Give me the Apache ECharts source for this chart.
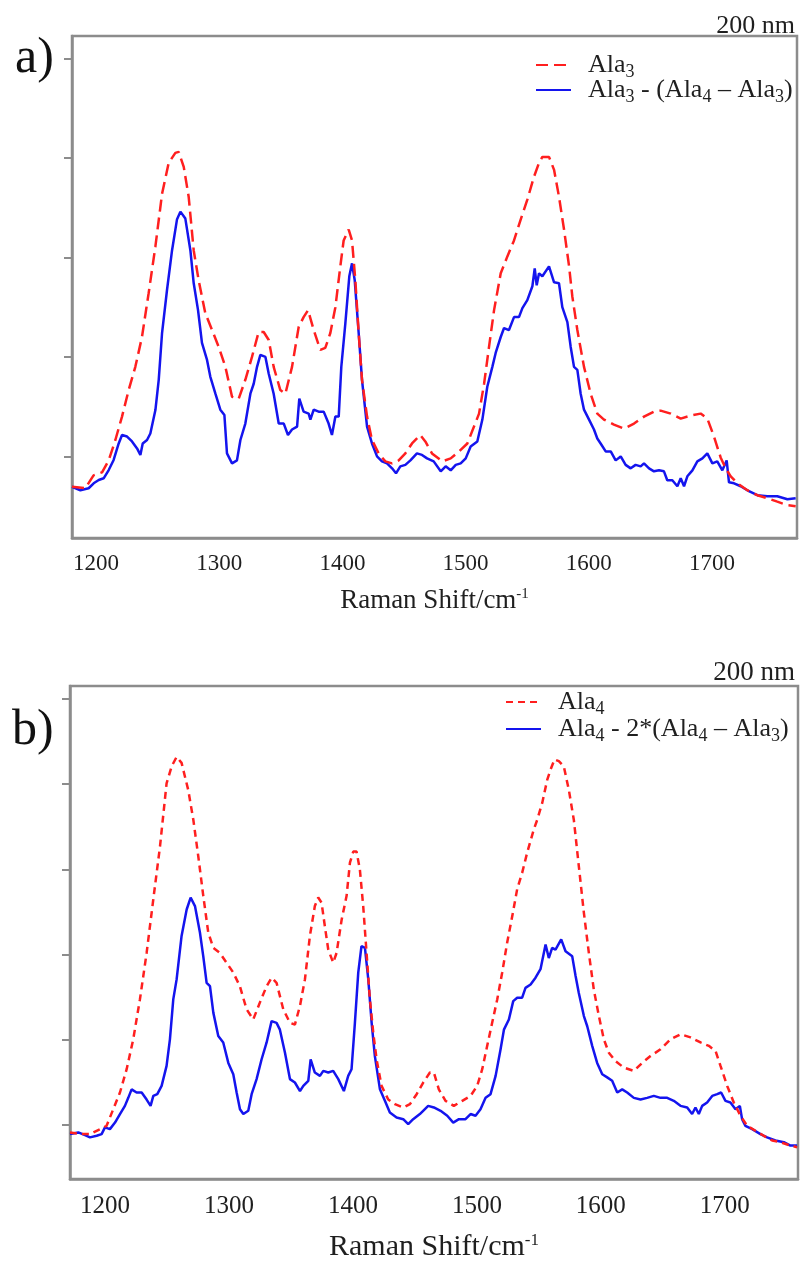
<!DOCTYPE html>
<html>
<head>
<meta charset="utf-8">
<script src="https://cdn.jsdelivr.net/npm/echarts@6/dist/echarts.min.js"></script>
<style>
  html, body { margin: 0; padding: 0; background: #ffffff; }
  #chart { width: 800px; height: 1263px; }
</style>
</head>
<body>
<div id="chart"></div>
<script>
// Raman spectra, 200 nm excitation. Intensities in arbitrary units.

// ---- panel a) ----
const aAla3X = [1180.5,1191.3,1198.0,1204.9,1210.3,1215.7,1221.1,1226.5,1231.9,1237.3,1242.7,1248.2,1253.6,1259.0,1264.4,1267.1,1271.2,1275.2,1279.3,1283.3,1288.7,1294.2,1299.6,1305.0,1310.4,1315.8,1321.2,1326.6,1332.0,1336.1,1340.2,1344.2,1349.6,1353.7,1359.1,1364.5,1368.5,1372.1,1376.7,1382.1,1386.1,1390.2,1394.3,1398.3,1401.0,1405.1,1407.8,1410.5,1413.2,1415.9,1420.0,1424.0,1429.4,1434.8,1440.3,1445.7,1451.1,1456.5,1463.2,1467.3,1472.7,1481.1,1487.9,1494.6,1501.4,1506.8,1510.9,1515.0,1519.0,1523.1,1528.5,1533.9,1539.3,1544.7,1550.1,1555.5,1559.6,1562.3,1567.7,1571.8,1575.8,1579.9,1584.0,1586.6,1590.7,1596.1,1601.5,1606.9,1612.3,1620.4,1628.6,1636.7,1644.8,1652.9,1658.3,1666.5,1674.6,1682.7,1690.8,1696.2,1701.6,1707.0,1711.1,1715.2,1720.6,1728.7,1736.8,1744.9,1753.0,1761.2,1767.9];
const aAla3Y = [-0.305,-0.32,-0.19,-0.16,-0.04,0.165,0.40,0.667,0.90,1.20,1.64,2.11,2.64,2.95,3.05,3.06,2.91,2.61,2.07,1.77,1.44,1.27,1.10,0.90,0.60,0.58,0.77,1.00,1.25,1.25,1.17,0.90,0.667,0.63,0.90,1.30,1.40,1.47,1.27,1.07,1.09,1.24,1.50,1.91,2.17,2.28,2.17,1.77,1.24,0.77,0.40,0.165,0.03,-0.05,-0.07,-0.04,0.03,0.13,0.215,0.15,0.03,-0.05,-0.02,0.05,0.13,0.30,0.43,0.73,1.10,1.47,1.84,2.01,2.17,2.38,2.58,2.81,2.95,3.01,3.01,2.88,2.61,2.28,1.91,1.61,1.27,0.90,0.63,0.43,0.37,0.32,0.28,0.33,0.40,0.45,0.46,0.43,0.38,0.41,0.43,0.38,0.20,-0.01,-0.12,-0.20,-0.27,-0.34,-0.39,-0.42,-0.455,-0.49,-0.50];

const aDiffX = [1180.5,1187.3,1194.0,1198.1,1202.2,1206.2,1210.3,1214.3,1218.4,1221.1,1225.2,1229.2,1233.3,1236.0,1237.9,1241.4,1244.1,1248.2,1250.9,1253.6,1257.6,1261.7,1265.7,1268.5,1272.5,1276.6,1279.3,1282.8,1286.0,1290.1,1292.8,1296.9,1300.9,1304.2,1306.3,1310.4,1314.4,1317.2,1321.2,1325.3,1328.0,1330.7,1333.4,1337.5,1340.2,1344.2,1348.3,1352.4,1355.8,1359.1,1363.2,1365.0,1368.5,1372.6,1374.0,1376.7,1380.7,1384.8,1388.8,1391.5,1394.3,1397.0,1399.1,1402.4,1405.6,1407.8,1410.0,1413.2,1415.9,1420.0,1424.0,1428.1,1432.1,1436.2,1440.3,1443.5,1447.0,1451.1,1455.2,1460.5,1464.6,1468.7,1474.1,1479.8,1483.8,1487.9,1492.0,1496.0,1500.1,1504.1,1509.5,1513.6,1517.6,1521.7,1524.4,1528.5,1531.2,1535.2,1539.3,1543.3,1546.1,1550.1,1554.2,1556.1,1557.7,1559.6,1562.3,1567.7,1571.8,1575.8,1578.5,1582.6,1585.3,1588.0,1590.7,1593.4,1596.1,1600.2,1604.2,1606.9,1609.6,1613.7,1617.8,1621.8,1625.9,1629.9,1634.0,1638.0,1642.1,1644.8,1648.9,1652.9,1657.0,1661.0,1663.7,1667.8,1671.9,1674.6,1677.3,1680.0,1684.1,1688.1,1692.2,1696.2,1700.3,1704.3,1708.4,1711.9,1713.8,1717.9,1723.3,1730.0,1736.8,1744.9,1753.0,1761.2,1767.9];
const aDiffY = [-0.305,-0.34,-0.32,-0.27,-0.237,-0.22,-0.137,-0.036,0.13,0.215,0.20,0.15,0.08,0.015,0.13,0.165,0.23,0.466,0.77,1.24,1.67,2.07,2.38,2.46,2.39,2.07,1.74,1.47,1.14,0.97,0.80,0.63,0.47,0.416,0.03,-0.07,-0.04,0.165,0.33,0.63,0.73,0.90,1.02,1.00,0.83,0.63,0.33,0.33,0.215,0.27,0.30,0.58,0.45,0.43,0.37,0.47,0.45,0.45,0.33,0.215,0.40,0.40,0.90,1.34,1.81,1.94,1.77,1.24,0.77,0.30,0.13,0.00,-0.05,-0.07,-0.12,-0.17,-0.10,-0.085,-0.04,0.03,0.015,-0.02,-0.05,-0.15,-0.10,-0.14,-0.085,-0.07,-0.02,0.10,0.15,0.37,0.70,0.90,1.04,1.20,1.29,1.27,1.40,1.40,1.49,1.57,1.71,1.89,1.72,1.84,1.81,1.91,1.75,1.74,1.50,1.35,1.10,0.90,0.87,0.63,0.47,0.37,0.27,0.18,0.13,0.05,0.05,-0.04,0.00,-0.085,-0.12,-0.085,-0.10,-0.07,-0.12,-0.15,-0.14,-0.15,-0.24,-0.24,-0.30,-0.22,-0.30,-0.20,-0.14,-0.05,-0.02,0.03,-0.07,-0.05,-0.14,-0.04,-0.26,-0.27,-0.30,-0.35,-0.39,-0.40,-0.40,-0.43,-0.42];

// ---- panel b) ----
const bAla4X = [1171.8,1179.8,1187.9,1196.0,1201.3,1206.7,1212.1,1217.5,1222.8,1228.2,1233.6,1239.0,1244.4,1249.7,1253.8,1257.8,1261.8,1267.2,1271.3,1275.3,1279.3,1283.3,1287.4,1292.7,1298.1,1303.5,1308.8,1314.2,1319.6,1325.0,1330.4,1334.4,1338.4,1343.8,1349.2,1353.2,1357.3,1361.3,1365.3,1369.3,1372.0,1374.7,1377.4,1380.1,1384.1,1386.8,1390.9,1394.9,1397.6,1400.3,1402.9,1405.6,1408.3,1411.0,1413.7,1416.4,1419.1,1423.1,1428.5,1433.9,1440.6,1446.0,1451.4,1456.7,1462.1,1465.3,1469.3,1474.7,1481.4,1488.2,1494.9,1500.2,1504.3,1508.3,1512.3,1516.4,1520.4,1524.4,1528.5,1532.5,1536.5,1540.6,1545.9,1548.6,1552.7,1556.7,1559.4,1562.6,1566.1,1570.1,1574.2,1578.2,1582.2,1586.3,1590.3,1594.3,1598.4,1602.4,1606.4,1611.8,1618.5,1626.6,1633.3,1640.0,1648.1,1656.2,1664.2,1672.3,1680.4,1687.1,1692.5,1696.5,1701.9,1707.2,1712.6,1718.0,1724.7,1731.4,1738.2,1744.9,1751.6,1758.3];
const bAla4Y = [-0.086,-0.105,-0.105,-0.047,-0.008,0.187,0.383,0.656,1.007,1.475,2.02,2.65,3.27,4.01,4.21,4.32,4.25,3.93,3.58,3.15,2.69,2.26,2.08,2.02,1.905,1.79,1.63,1.36,1.24,1.44,1.63,1.73,1.67,1.36,1.20,1.18,1.40,1.71,2.22,2.57,2.67,2.61,2.33,2.06,1.905,2.02,2.41,2.69,3.08,3.21,3.21,3.00,2.57,2.02,1.475,1.085,0.77,0.46,0.30,0.246,0.207,0.246,0.363,0.50,0.617,0.617,0.42,0.285,0.226,0.285,0.343,0.46,0.656,0.93,1.20,1.475,1.79,2.14,2.45,2.77,2.96,3.20,3.47,3.58,3.78,4.05,4.17,4.29,4.27,4.21,3.93,3.58,3.04,2.49,2.02,1.59,1.28,1.007,0.85,0.75,0.675,0.636,0.73,0.81,0.89,1.007,1.066,1.03,0.97,0.93,0.87,0.695,0.46,0.266,0.11,-0.008,-0.066,-0.125,-0.18,-0.20,-0.234,-0.26];

const bDiffX = [1171.8,1178.5,1183.9,1187.9,1193.3,1197.3,1200.0,1204.0,1208.1,1212.1,1216.1,1218.8,1221.5,1225.5,1229.6,1233.6,1236.8,1239.0,1242.2,1245.7,1249.7,1252.4,1255.1,1257.8,1261.8,1265.9,1269.1,1272.6,1276.6,1279.3,1282.0,1284.7,1287.4,1291.4,1295.4,1299.5,1303.5,1306.2,1308.9,1311.6,1315.6,1318.3,1322.3,1326.3,1330.4,1334.4,1338.4,1341.1,1345.2,1349.2,1353.2,1357.3,1360.0,1364.0,1365.9,1369.3,1373.4,1376.1,1380.1,1384.1,1388.2,1392.7,1396.2,1398.9,1401.6,1404.3,1406.9,1409.7,1412.4,1415.1,1417.7,1421.8,1425.8,1429.8,1435.2,1440.6,1444.6,1448.6,1454.0,1460.7,1465.3,1470.7,1476.1,1480.9,1485.5,1490.8,1494.9,1498.9,1502.9,1507.0,1511.0,1515.1,1519.1,1521.8,1525.8,1529.3,1532.5,1536.5,1539.2,1543.3,1547.3,1551.3,1555.4,1558.0,1560.7,1563.4,1568.0,1571.5,1576.9,1579.6,1582.2,1586.3,1589.0,1593.0,1597.0,1601.1,1605.1,1609.1,1613.2,1617.2,1621.2,1626.6,1632.0,1637.3,1642.7,1648.1,1653.5,1658.8,1664.2,1669.6,1673.6,1676.3,1679.0,1681.7,1685.7,1689.8,1693.8,1697.0,1700.5,1704.5,1708.6,1712.1,1713.9,1716.6,1722.0,1728.7,1734.1,1740.8,1747.6,1752.9,1758.3];
const bDiffY = [-0.105,-0.086,-0.117,-0.144,-0.125,-0.105,-0.027,-0.047,0.03,0.13,0.226,0.32,0.42,0.383,0.383,0.30,0.226,0.343,0.363,0.46,0.695,1.007,1.475,1.71,2.22,2.53,2.67,2.57,2.26,1.98,1.67,1.63,1.32,1.046,0.97,0.73,0.597,0.383,0.187,0.13,0.168,0.363,0.54,0.77,0.97,1.22,1.20,1.12,0.85,0.54,0.50,0.40,0.46,0.52,0.77,0.617,0.578,0.636,0.617,0.636,0.54,0.40,0.578,0.656,1.20,1.79,2.10,2.08,1.71,1.20,0.81,0.42,0.285,0.148,0.09,0.07,0.012,0.07,0.13,0.226,0.207,0.168,0.11,0.03,0.07,0.07,0.13,0.11,0.187,0.32,0.363,0.578,0.89,1.12,1.24,1.455,1.495,1.495,1.61,1.65,1.73,1.83,2.12,1.96,2.08,2.06,2.18,2.04,1.98,1.75,1.55,1.28,1.16,0.93,0.73,0.597,0.56,0.52,0.383,0.42,0.383,0.32,0.30,0.32,0.343,0.32,0.32,0.285,0.226,0.207,0.13,0.207,0.13,0.226,0.266,0.343,0.363,0.383,0.285,0.266,0.187,0.226,0.07,-0.008,-0.047,-0.105,-0.144,-0.18,-0.20,-0.24,-0.24];

// axis ticks
const shiftTicks = [1200, 1300, 1400, 1500, 1600, 1700];
const aIntensityTicks = [0, 1, 2, 3, 4];
const bIntensityTicks = [0, 1, 2, 3, 4, 5];

// legend labels (rich text with subscripts)
const legendText = {
  'Ala3': '{n|Ala}{s|3}',
  'Ala3 - (Ala4 – Ala3)': '{n|Ala}{s|3}{n| - (Ala}{s|4}{n| – Ala}{s|3}{n|)}',
  'Ala4': '{n|Ala}{s|4}',
  'Ala4 - 2*(Ala4 – Ala3)': '{n|Ala}{s|4}{n| - 2*(Ala}{s|4}{n| – Ala}{s|3}{n|)}'
};

const SERIF = '"Liberation Serif", "DejaVu Serif", serif';
const INK = '#1f1f1f';
const FRAME = '#8c8c8c';
const RED = '#ff1f1f';
const BLUE = '#1414ee';

const pairs = (xs, ys) => xs.map((x, i) => [x, ys[i]]);

// subscripts: top padding pushes the small digits below the baseline
const legendRich = {
  g: { width: 12 },
  n: { fontFamily: SERIF, fontSize: 26, color: INK, lineHeight: 22 },
  s: { fontFamily: SERIF, fontSize: 18, color: INK, lineHeight: 6, verticalAlign: 'middle', padding: [14, 0, 0, 0] }
};

function xAxisFor(gridIndex, min, max, fontSize, nameSize, nameGap, margin) {
  return {
    type: 'value', gridIndex, min, max,
    axisLine: { show: true, onZero: false, lineStyle: { color: FRAME, width: 2.5 } },
    axisTick: { show: false },
    splitLine: { show: false },
    axisLabel: {
      customValues: shiftTicks, fontFamily: SERIF, fontSize, color: INK, margin,
      formatter: v => String(v)
    },
    name: 'Raman Shift/cm{p|-1}',
    nameLocation: 'middle',
    nameGap,
    nameTextStyle: {
      fontFamily: SERIF, fontSize: nameSize, color: INK, lineHeight: nameSize,
      rich: { p: { fontFamily: SERIF, fontSize: Math.round(nameSize * 0.55), color: INK, lineHeight: 14, verticalAlign: 'top' } }
    }
  };
}

function yAxisFor(gridIndex, min, max, ticks) {
  return {
    type: 'value', gridIndex, min, max,
    axisLine: { show: true, onZero: false, lineStyle: { color: FRAME, width: 2.5 } },
    axisTick: { show: true, inside: false, length: 8, customValues: ticks, lineStyle: { color: FRAME, width: 2 } },
    axisLabel: { show: false, customValues: ticks },
    splitLine: { show: false }
  };
}

function legendFor(names, left, top, gap) {
  return {
    data: names,
    orient: 'vertical', left, top,
    itemWidth: 35, itemHeight: 14, itemGap: gap,
    itemStyle: { opacity: 0 },
    formatter: name => '{g|}' + legendText[name],
    textStyle: { rich: legendRich },
    selectedMode: false
  };
}

const chart = echarts.init(document.getElementById('chart'), null, { renderer: 'canvas' });

chart.setOption({
  animation: false,
  backgroundColor: '#ffffff',
  grid: [
    { left: 72, top: 36, width: 725, height: 502, show: true, borderColor: FRAME, borderWidth: 2.5 },
    { left: 70, top: 686, width: 728, height: 494, show: true, borderColor: FRAME, borderWidth: 2.5 }
  ],
  xAxis: [
    xAxisFor(0, 1180.5, 1769, 23, 27, 49, 14),
    xAxisFor(1, 1171.8, 1759, 25, 30, 53, 15)
  ],
  yAxis: [
    yAxisFor(0, -0.82, 4.225, aIntensityTicks),
    yAxisFor(1, -0.632, 5.152, bIntensityTicks)
  ],
  legend: [
    legendFor(['Ala3', 'Ala3 - (Ala4 – Ala3)'], 530, 44, -7),
    legendFor(['Ala4', 'Ala4 - 2*(Ala4 – Ala3)'], 500, 681, -5)
  ],
  series: [
    {
      name: 'Ala3', type: 'line', xAxisIndex: 0, yAxisIndex: 0, symbol: 'none', z: 3,
      data: pairs(aAla3X, aAla3Y),
      itemStyle: { color: RED },
      lineStyle: { color: RED, width: 2.5, type: [12, 6] }
    },
    {
      name: 'Ala3 - (Ala4 – Ala3)', type: 'line', xAxisIndex: 0, yAxisIndex: 0, symbol: 'none', z: 2,
      data: pairs(aDiffX, aDiffY),
      itemStyle: { color: BLUE },
      lineStyle: { color: BLUE, width: 2.5 }
    },
    {
      name: 'Ala4', type: 'line', xAxisIndex: 1, yAxisIndex: 1, symbol: 'none', z: 3,
      data: pairs(bAla4X, bAla4Y),
      itemStyle: { color: RED },
      lineStyle: { color: RED, width: 2.5, type: [7, 5] }
    },
    {
      name: 'Ala4 - 2*(Ala4 – Ala3)', type: 'line', xAxisIndex: 1, yAxisIndex: 1, symbol: 'none', z: 2,
      data: pairs(bDiffX, bDiffY),
      itemStyle: { color: BLUE },
      lineStyle: { color: BLUE, width: 2.5 }
    }
  ],
  graphic: [
    { type: 'text', left: 15, top: 34, style: { text: 'a)', font: '50px ' + SERIF, fill: '#111' } },
    { type: 'text', left: 12, top: 706, style: { text: 'b)', font: '50px ' + SERIF, fill: '#111' } },
    { type: 'text', right: 5, top: 13, style: { text: '200 nm', font: '26px ' + SERIF, fill: INK } },
    { type: 'text', right: 5, top: 659, style: { text: '200 nm', font: '27px ' + SERIF, fill: INK } }
  ]
});
</script>
</body>
</html>
